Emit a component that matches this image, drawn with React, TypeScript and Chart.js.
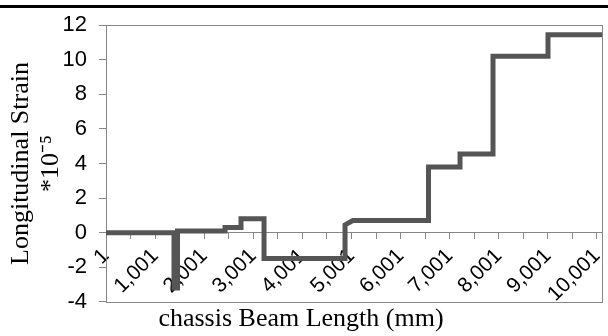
import React, { useEffect, useRef } from 'react';
import { Chart, registerables } from 'chart.js';

Chart.register(...registerables);

// Beam position (mm) and longitudinal strain (*10^-5)
const positionsMm = [1, 1386, 1386, 1457, 1457, 2425, 2425, 2751, 2751, 3220, 3220, 4870, 4870, 5030, 6570, 6570, 7212, 7212, 7884, 7884, 9004, 9004, 10104];
const strainValues = [0, 0, -3.2, -3.2, 0.1, 0.1, 0.3, 0.3, 0.8, 0.8, -1.5, -1.5, 0.45, 0.7, 0.7, 3.8, 3.8, 4.55, 4.55, 10.2, 10.2, 11.45, 11.45];

const xTickPositions = [1, 501, 1001, 1501, 2001, 2501, 3001, 3501, 4001, 4501, 5001, 5501, 6001, 6501, 7001, 7501, 8001, 8501, 9001, 9501, 10001];
const xTickLabels = ['1', '', '1,001', '', '2,001', '', '3,001', '', '4,001', '', '5,001', '', '6,001', '', '7,001', '', '8,001', '', '9,001', '', '10,001'];
const xMin = 1;
const xMax = 10104;

const yMin = -4;
const yMax = 12;
const yStep = 2;

const xTitle = 'chassis Beam Length (mm)';
const yTitle = ['Longitudinal Strain', '*10\u207B\u2075'];

const plotBox = {
  id: 'plotBox',
  beforeDatasetsDraw(chart: any) {
    const { ctx, chartArea: a } = chart;
    ctx.save();
    ctx.strokeStyle = '#868686';
    ctx.lineWidth = 1;
    ctx.strokeRect(Math.round(a.left) + 0.5, Math.round(a.top) + 0.5, Math.round(a.right - a.left), Math.round(a.bottom - a.top));
    ctx.restore();
  },
};

export default function App() {
  const ref = useRef<HTMLCanvasElement>(null);

  useEffect(() => {
    document.body.style.margin = '0';
    const chart = new Chart(ref.current as HTMLCanvasElement, {
      type: 'line',
      data: {
        datasets: [
          {
            data: positionsMm.map((x, i) => ({ x, y: strainValues[i] })),
            borderColor: '#555555',
            borderWidth: 5,
            pointRadius: 0,
            tension: 0,
            fill: false,
          },
        ],
      },
      options: {
        responsive: false,
        animation: false,
        layout: { padding: { top: 22, right: 6, bottom: 0, left: 0 } },
        plugins: {
          legend: { display: false },
          tooltip: { enabled: false },
          title: {
            display: true,
            position: 'bottom',
            text: xTitle,
            color: '#000',
            font: { family: 'Liberation Serif', size: 26, weight: 'normal', lineHeight: 1.2 },
            padding: { top: 2, bottom: 1 },
          },
        },
        scales: {
          x: {
            type: 'linear',
            position: { y: 0 } as any,
            min: xMin,
            max: xMax,
            afterBuildTicks: (s: any) => {
              s.ticks = xTickPositions.map((v) => ({ value: v }));
            },
            afterFit: (s: any) => {
              s.height = 0;
              s.paddingLeft = 0;
              s.paddingRight = 0;
            },
            ticks: {
              autoSkip: false,
              minRotation: 45,
              maxRotation: 45,
              color: '#000',
              padding: 5,
              font: { family: 'Liberation Sans', size: 21 },
              callback: (_v: any, i: number) => xTickLabels[i],
            },
            grid: { drawOnChartArea: false, drawTicks: true, tickLength: 6, color: '#868686' },
            border: { display: true, color: '#868686', width: 1 },
          },
          y: {
            min: yMin,
            max: yMax,
            ticks: {
              stepSize: yStep,
              color: '#000',
              padding: 12,
              font: { family: 'Liberation Sans', size: 22 },
            },
            grid: { drawOnChartArea: false, drawTicks: true, tickLength: 7, color: '#868686' },
            border: { display: true, color: '#868686', width: 1 },
            afterFit: (s: any) => {
              s.width = 106;
            },
            title: {
              display: true,
              text: yTitle,
              color: '#000',
              font: { family: 'Liberation Serif', size: 26, lineHeight: 1.15 },
              padding: { top: 6, bottom: 0 },
            },
          },
        },
      },
      plugins: [plotBox],
    });
    return () => chart.destroy();
  }, []);

  return (
    <div style={{ position: 'relative', width: 608, height: 336, background: '#fff' }}>
      <canvas ref={ref} width={608} height={336} style={{ position: 'absolute', left: 0, top: 0 }} />
      <div style={{ position: 'absolute', left: 0, top: 5, width: 608, height: 3, background: '#000' }} />
    </div>
  );
}
